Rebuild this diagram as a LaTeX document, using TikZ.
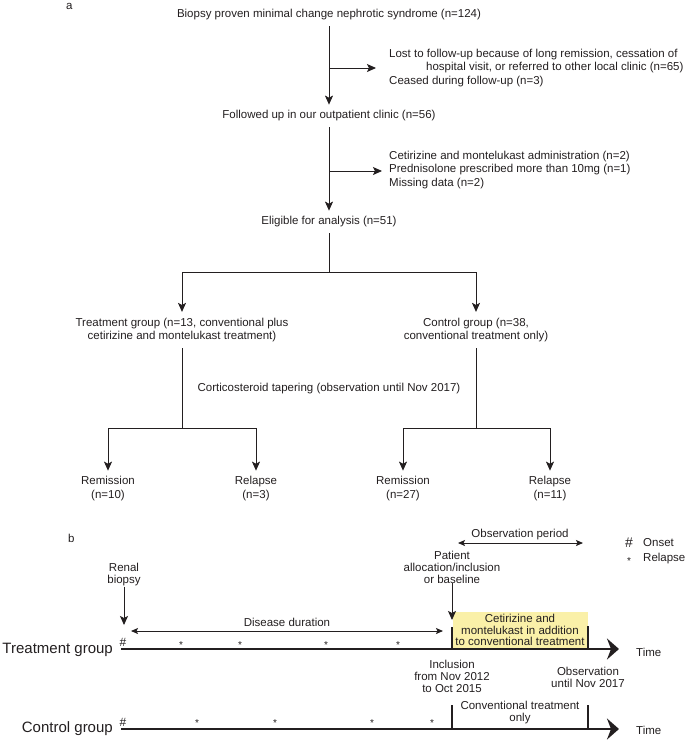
\documentclass[tikz,border=0pt]{standalone}
\usepackage{fontspec}
\setmainfont{Liberation Sans}
\usetikzlibrary{arrows.meta}
\definecolor{ink}{RGB}{35,31,32}
\definecolor{paleyellow}{RGB}{250,240,168}
\begin{document}
\begin{tikzpicture}[x=1pt,y=-1pt,
  txt/.style={font=\fontsize{11.5}{13.5}\selectfont,text=ink,inner sep=0pt,align=center},
  box/.style={txt,outer sep=6pt},
  tl/.style={font=\fontsize{11.5}{12}\selectfont,text=ink,inner sep=0pt,align=center},
  big/.style={font=\fontsize{15}{18}\selectfont,text=ink,inner sep=0pt},
  hashmark/.style={font=\fontsize{12}{12}\selectfont,text=ink,inner sep=0pt},
  star/.style={font=\fontsize{10}{10}\selectfont,text=ink,inner sep=0pt},
  ln/.style={draw=ink,line width=0.9pt},
  arr/.style={ln,-{Stealth[length=9pt,width=8pt,inset=2pt]}},
  both/.style={ln,{Stealth[length=7pt,width=6pt,inset=1.5pt]}-{Stealth[length=7pt,width=6pt,inset=1.5pt]}},
  axis/.style={draw=ink,line width=2.6pt,-{Stealth[length=12pt,width=21pt,inset=4pt]}},
  tick/.style={draw=ink,line width=1.4pt}]
\useasboundingbox (0,0) rectangle (685,740);
% a
\node[txt,anchor=west] (lbla) at (66,6) {a};
\node[box] (biopsy) at (329,15) {Biopsy proven minimal change nephrotic syndrome (n=124)};
\node[box] (followed) at (329,116) {Followed up in our outpatient clinic (n=56)};
\node[box] (eligible) at (329,222) {Eligible for analysis (n=51)};
\node[txt,align=left,anchor=west] (lost) at (389,68) {Lost to follow-up because of long remission, cessation of\\
  \hspace*{37pt}hospital visit, or referred to other local clinic (n=65)\\
  Ceased during follow-up (n=3)};
\node[txt,align=left,anchor=west] (excl) at (389,170) {Cetirizine and montelukast administration (n=2)\\
  Prednisolone prescribed more than 10mg (n=1)\\
  Missing data (n=2)};
\coordinate (b1) at (329,68);
\coordinate (b2) at (329,171);
\draw[arr] (biopsy) -- (followed);
\draw[arr] (followed) -- (eligible);
\draw[arr,shorten >=13pt] (b1) -- (b1 -| lost.west);
\draw[arr,shorten >=7pt] (b2) -- (b2 -| excl.west);
\coordinate (s0) at (329,272);
\node[box] (treat) at (182,330) {Treatment group (n=13, conventional plus\\cetirizine and montelukast treatment)};
\node[box] (ctrl) at (476,330) {Control group (n=38,\\conventional treatment only)};
\draw[ln] (eligible) -- (s0);
\draw[arr] (s0) -| (treat);
\draw[arr] (s0) -| (ctrl);
\node[txt] (taper) at (329,389) {Corticosteroid tapering (observation until Nov 2017)};
\coordinate (s1) at (182,428);
\coordinate (s2) at (476,428);
\node[box,font=\fontsize{11.5}{14}\selectfont] (rem1) at (108,489) {Remission\\(n=10)};
\node[box,font=\fontsize{11.5}{14}\selectfont] (rel1) at (256,489) {Relapse\\(n=3)};
\node[box,font=\fontsize{11.5}{14}\selectfont] (rem2) at (403,489) {Remission\\(n=27)};
\node[box,font=\fontsize{11.5}{14}\selectfont] (rel2) at (550,489) {Relapse\\(n=11)};
\draw[ln] (treat) -- (s1);
\draw[ln] (ctrl) -- (s2);
\draw[arr] (s1) -| (rem1);
\draw[arr] (s1) -| (rel1);
\draw[arr] (s2) -| (rem2);
\draw[arr] (s2) -| (rel2);
% b
\node[txt,anchor=west] (lblb) at (68,538) {b};
\node[tl] (obs) at (520,535) {Observation period};
\coordinate (obsl) at (458,543);
\coordinate (obsr) at (583,543);
\draw[both] (obsl) -- (obsr);
\node[font=\fontsize{14}{14}\selectfont,text=ink,inner sep=0pt] (lhash) at (629,543) {\#};
\node[tl,anchor=west] (onset) at (643,543) {Onset};
\node[star] (lstar) at (629,561) {*};
\node[tl,anchor=west] (relapse) at (643,559) {Relapse};
\fill[paleyellow] (453,612) rectangle (588,649);
\node[tl] (patient) at (452,567) {Patient\\allocation/inclusion\\or baseline};
\node[tl] (renal) at (124,575) {Renal\\biopsy};
\coordinate (ptip) at (452,620);
\coordinate (rtip) at (124,625);
\draw[arr] (patient) -- (ptip);
\draw[arr] (renal) -- (rtip);
\node[tl] (dis) at (287,622) {Disease duration};
\coordinate (dl) at (131,631);
\coordinate (dr) at (443,631);
\draw[both] (dl) -- (dr);
\node[tl,font=\fontsize{11.5}{11.5}\selectfont] (combo) at (520,630) {Cetirizine and\\montelukast in addition\\to conventional treatment};
\draw[tick] (452,627) -- (452,649);
\draw[tick] (588,626) -- (588,649);
\coordinate (t0) at (121,649);
\coordinate (t1) at (619,649);
\draw[axis] (t0) -- (t1);
\node[big,anchor=east] (tg) at (113,650) {Treatment group};
\node[hashmark] (th) at (123,642) {\#};
\foreach \x in {181,240,326,398}
\node[star] (ts\x) at (\x,645) {*};
\node[tl,anchor=west] (time1) at (636,652) {Time};
\node[tl] (incl) at (452,676) {Inclusion\\from Nov 2012\\to Oct 2015};
\node[tl] (obsend) at (588,677) {Observation\\until Nov 2017};
% control
\draw[tick] (452,705) -- (452,729);
\draw[tick] (588,705) -- (588,729);
\node[tl] (conv) at (520,713) {Conventional treatment\\only};
\coordinate (c0) at (121,729);
\coordinate (c1) at (619,729);
\draw[axis] (c0) -- (c1);
\node[big,anchor=east] (cg) at (113,729) {Control group};
\node[hashmark] (ch) at (123,722) {\#};
\foreach \x in {197,275,372,432}
\node[star] (cs\x) at (\x,723) {*};
\node[tl,anchor=west] (time2) at (636,730) {Time};
\end{tikzpicture}
\end{document}
